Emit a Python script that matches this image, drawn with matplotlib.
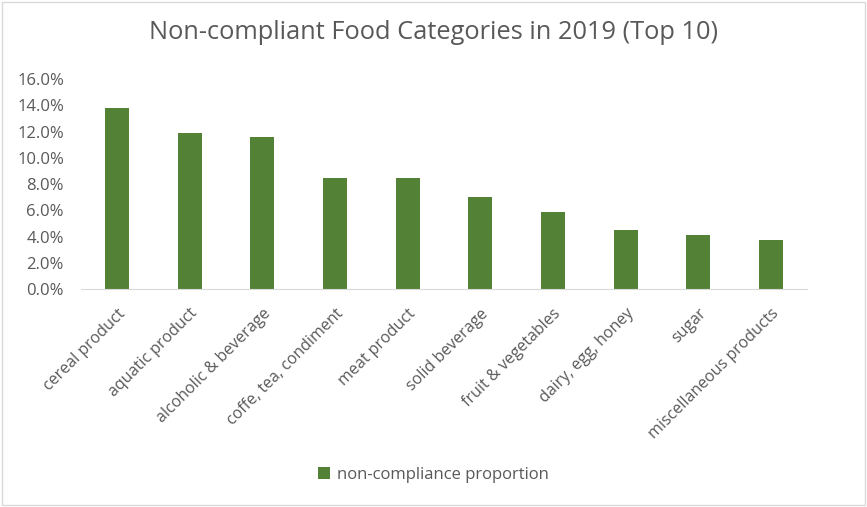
import matplotlib
matplotlib.use("Agg")
import matplotlib.pyplot as plt
from matplotlib.ticker import PercentFormatter, MultipleLocator

categories = [
    "cereal product", "aquatic product", "alcoholic & beverage",
    "coffe, tea, condiment", "meat product", "solid beverage",
    "fruit & vegetables", "dairy, egg, honey", "sugar",
    "miscellaneous products",
]
proportion = [13.8, 11.9, 11.6, 8.45, 8.45, 7.0, 5.86, 4.5, 4.1, 3.75]

GREEN = "#538135"
TEXT = "#595959"

plt.rcParams["font.family"] = ["Open Sans", "DejaVu Sans"]

fig = plt.figure(figsize=(8.67, 5.07), dpi=100)
ax = fig.add_axes([0.093, 0.43, 0.838, 0.414])

x = range(len(categories))
ax.bar(x, proportion, width=0.33, color=GREEN, label="non-compliance proportion")

ax.set_xlim(-0.5, len(categories) - 0.5)
ax.set_ylim(0, 16)
ax.yaxis.set_major_locator(MultipleLocator(2))
ax.yaxis.set_major_formatter(PercentFormatter(decimals=1))
ax.set_xticks(list(x))
ax.set_xticklabels(categories, rotation=45, ha="right", rotation_mode="anchor")
ax.tick_params(axis="both", length=0, colors=TEXT)
ax.tick_params(axis="x", pad=12, labelsize=11.5)
ax.tick_params(axis="y", pad=12, labelsize=12)

for side in ("top", "right", "left"):
    ax.spines[side].set_visible(False)
ax.spines["bottom"].set_color("#d9d9d9")

fig.suptitle("Non-compliant Food Categories in 2019 (Top 10)", y=0.96,
             fontsize=18.3, color=TEXT)

fig.legend(loc="center", bbox_to_anchor=(0.5, 0.063), frameon=False,
           fontsize=12, labelcolor=TEXT, handlelength=0.7, handleheight=0.7,
           handletextpad=0.4)

# light frame around the chart area
fig.patches.append(plt.Rectangle((0.002, 0.003), 0.996, 0.994, transform=fig.transFigure,
                                 fill=False, edgecolor="#d9d9d9", linewidth=1))

fig.savefig("out.png", dpi=100)
